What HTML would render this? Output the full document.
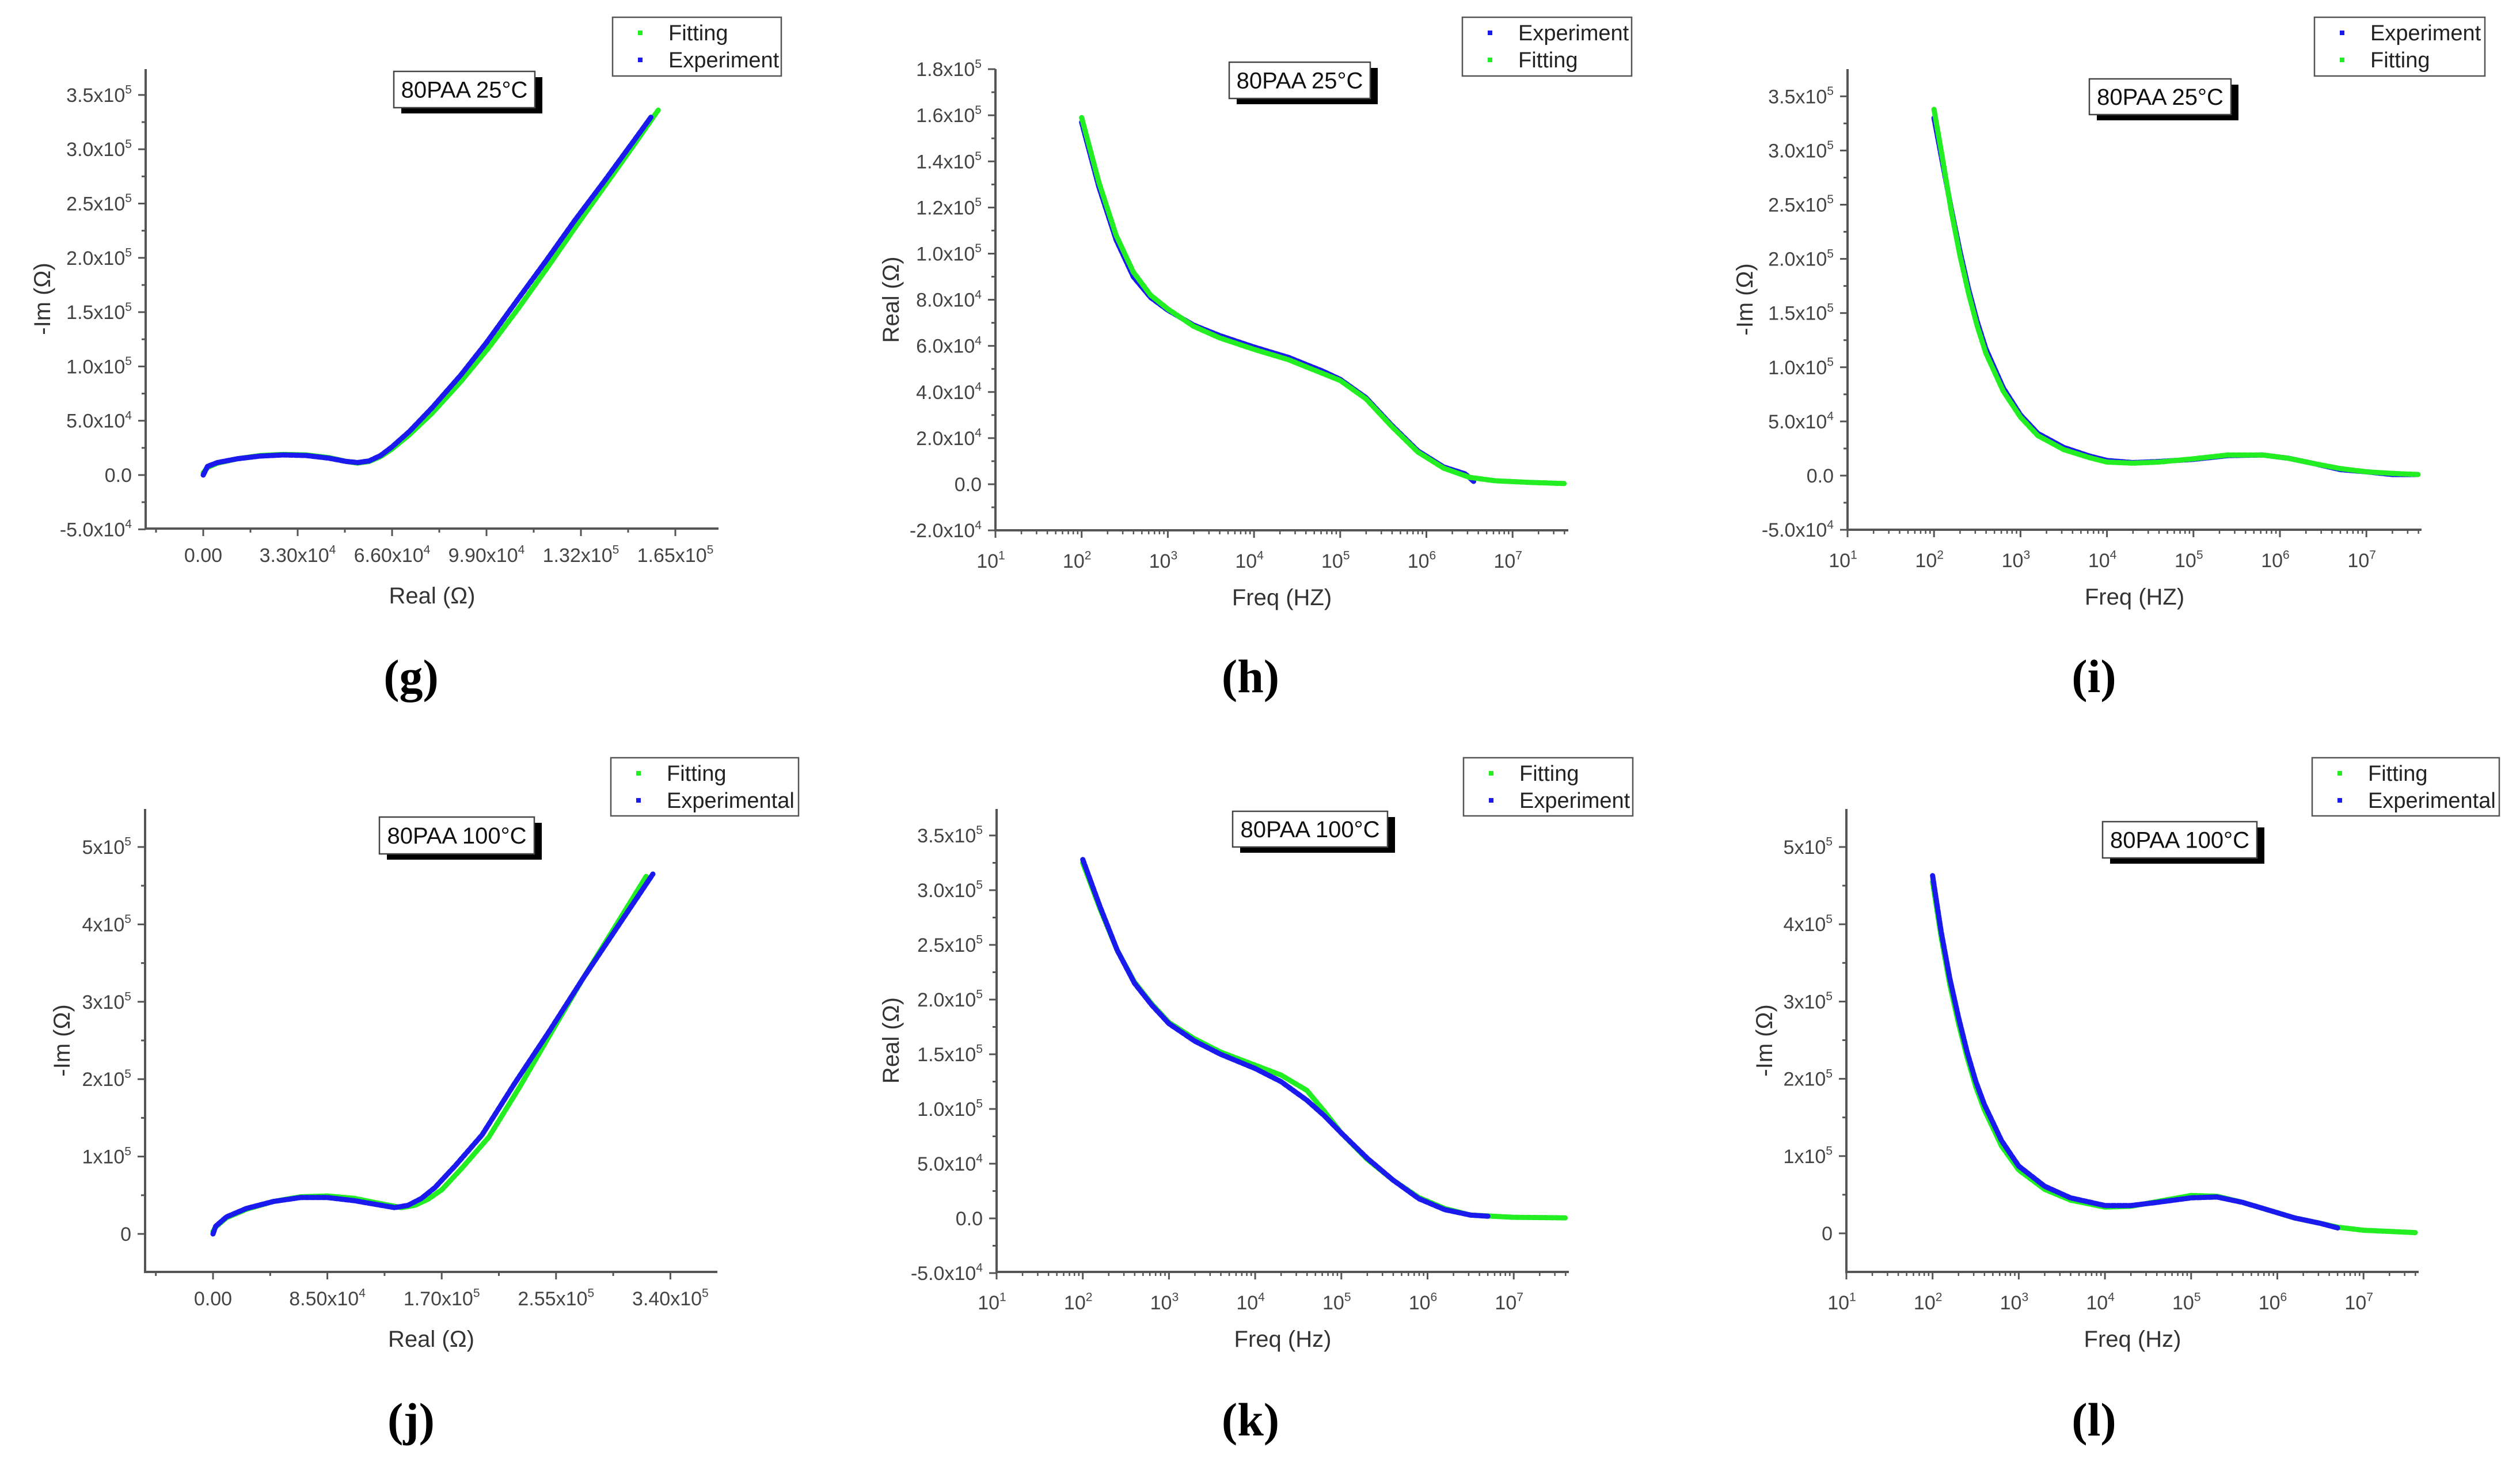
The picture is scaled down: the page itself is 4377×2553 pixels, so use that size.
<!DOCTYPE html>
<html><head><meta charset="utf-8">
<style>
html,body{margin:0;padding:0;background:#fff;}
svg{display:block;font-family:"Liberation Sans",sans-serif;}
</style></head>
<body>
<svg id="fig" width="4377" height="2553" viewBox="0 0 4377 2553" xmlns="http://www.w3.org/2000/svg">
<rect width="4377" height="2553" fill="#fff"/>
</svg>
<script>
// ---------- DATA ----------
// (g) Nyquist 25C
const gFitX=[0,1500,5000,12000,20000,28000,36000,44000,50000,54000,58000,62000,66000,72000,80000,90000,100000,110000,120000,130000,140000,150000,159000];
const gFitY=[2000,7000,11000,15000,18000,19000,18500,16000,12500,11000,12500,17000,24000,37000,57000,86000,118000,153000,190000,228000,265000,302000,336000];
const gExpX=[0,1500,5000,12000,20000,28000,36000,44000,50000,54000,58000,62000,66000,72000,80000,90000,99000,110000,120000,130000,140000,150000,156600];
const gExpY=[0,8000,11500,15000,17500,18500,18000,15500,12500,11500,13000,18000,26000,40000,62000,92000,122000,162000,198000,235000,270000,306000,330000];
const gYTicks=[-50000,0,50000,100000,150000,200000,250000,300000,350000];
const gYLabels=[["-5.0x10","4"],["0.0",""],["5.0x10","4"],["1.0x10","5"],["1.5x10","5"],["2.0x10","5"],["2.5x10","5"],["3.0x10","5"],["3.5x10","5"]];
const gXTicks=[0,33000,66000,99000,132000,165000];
const gXLabels=[["0.00",""],["3.30x10","4"],["6.60x10","4"],["9.90x10","4"],["1.32x10","5"],["1.65x10","5"]];
// (h) Real vs freq 25C (log10 f)
const hLogF=[2.0,2.2,2.4,2.6,2.8,3.0,3.3,3.6,4.0,4.4,4.8,5.0,5.3,5.6,5.9,6.2,6.45,6.55];
const hExp=[157000,129000,106000,90000,81000,75500,69000,64500,59500,55000,49000,45500,37500,25500,14500,7500,4500,1200];
const hFitLogF=[2.0,2.2,2.4,2.6,2.8,3.0,3.3,3.6,4.0,4.4,4.8,5.0,5.3,5.6,5.9,6.2,6.5,6.8,7.2,7.6];
const hFit=[159000,131000,108000,92000,82000,76000,68500,63500,58500,54000,48000,45000,37000,25000,14000,7000,3000,1500,800,300];
const hYTicks=[-20000,0,20000,40000,60000,80000,100000,120000,140000,160000,180000];
const hYLabels=[["-2.0x10","4"],["0.0",""],["2.0x10","4"],["4.0x10","4"],["6.0x10","4"],["8.0x10","4"],["1.0x10","5"],["1.2x10","5"],["1.4x10","5"],["1.6x10","5"],["1.8x10","5"]];
// (i) -Im vs freq 25C
const iLogF=[2.0,2.1,2.2,2.3,2.4,2.5,2.6,2.8,3.0,3.2,3.5,3.8,4.0,4.3,4.6,5.0,5.4,5.8,6.1,6.4,6.7,7.0,7.3,7.6];
const iExp=[330000,288000,246000,207000,172000,142000,117000,81000,56000,39000,26000,18000,14000,12000,13000,15000,18500,19000,16000,11000,5500,3500,1000,1000];
const iFit=[338000,292000,244000,203000,168000,138000,113000,78000,54000,37000,24000,16500,12500,11500,12500,15500,19000,19000,16000,11000,6500,3500,2000,1000];
const iYTicks=[-50000,0,50000,100000,150000,200000,250000,300000,350000];
const iYLabels=gYLabels;
// (j) Nyquist 100C
const jFitX=[0,2000,10000,25000,45000,65000,85000,105000,125000,140000,150000,160000,170000,185000,205000,228000,252000,275000,300000,322000];
const jFitY=[3000,9000,21000,32000,42000,48000,49000,46000,39000,34000,37000,45000,57000,85000,125000,190000,262000,330000,400000,462000];
const jExpX=[0,2000,10000,25000,45000,65000,85000,105000,125000,135000,145000,155000,165000,180000,200000,224000,250000,275000,300000,327000];
const jExpY=[0,10000,22000,33000,42000,47000,47000,43000,37000,34000,37000,46000,60000,88000,128000,194000,262000,330000,395000,465000];
const jYTicks=[0,100000,200000,300000,400000,500000];
const jYLabels=[["0",""],["1x10","5"],["2x10","5"],["3x10","5"],["4x10","5"],["5x10","5"]];
const jXTicks=[0,85000,170000,255000,340000];
const jXLabels=[["0.00",""],["8.50x10","4"],["1.70x10","5"],["2.55x10","5"],["3.40x10","5"]];
// (k) Real vs freq 100C
const kLogF=[2.0,2.2,2.4,2.6,2.8,3.0,3.3,3.6,4.0,4.3,4.6,4.8,5.0,5.3,5.6,5.9,6.2,6.5,6.7];
const kExp=[328000,285000,245000,215000,195000,178000,162000,150000,137000,125000,108000,94000,78000,55000,35000,18000,8000,3000,2000];
const kFitLogF=[2.0,2.2,2.4,2.6,2.8,3.0,3.3,3.6,4.0,4.3,4.6,4.8,5.0,5.3,5.6,5.9,6.2,6.5,7.0,7.6];
const kFit=[325000,283000,245000,216000,196000,179000,164000,152000,140000,131000,117000,98000,78000,54000,35000,19000,9000,3000,1000,500];
const kYTicks=[-50000,0,50000,100000,150000,200000,250000,300000,350000];
const kYLabels=gYLabels;
// (l) -Im vs freq 100C
const lLogF=[2.0,2.1,2.2,2.3,2.4,2.5,2.6,2.8,3.0,3.3,3.6,4.0,4.3,4.6,5.0,5.3,5.6,5.9,6.2,6.5,6.7];
const lExp=[463000,390000,330000,280000,235000,197000,167000,120000,87000,61000,46000,36000,36000,40000,46000,47000,40000,30000,20000,13000,7000];
const lFitLogF=[2.0,2.1,2.2,2.3,2.4,2.5,2.6,2.8,3.0,3.3,3.6,4.0,4.3,4.6,5.0,5.3,5.6,5.9,6.2,6.5,6.7,7.0,7.6];
const lFit=[455000,383000,322000,272000,228000,190000,160000,113000,82000,57000,43000,34000,35000,41000,49000,48000,40000,30000,20000,13000,8000,4000,1000];
const lYTicks=[0,100000,200000,300000,400000,500000];
const lYLabels=jYLabels;
const logTicks=[1,2,3,4,5,6,7];

// ---------- DRAW ----------
const NS="http://www.w3.org/2000/svg";
const svg=document.getElementById('fig');
function mk(tag,attrs,parent){const e=document.createElementNS(NS,tag);for(const k in attrs)e.setAttribute(k,attrs[k]);(parent||svg).appendChild(e);return e;}
function supText(g,x,y,parts,anchor,size){
  const t=mk('text',{x:x,y:y,'text-anchor':anchor,'font-size':size,fill:'#444'},g);
  t.appendChild(document.createTextNode(parts[0]));
  if(parts[1]){const s=mk('tspan',{'font-size':size*0.62,dy:-size*0.42},t);s.textContent=parts[1];}
  return t;
}
function panel(cfg){
  const g=mk('g',{});
  
  
  const sx=cfg.log?(v=>cfg.L+(v-1)*cfg.dec):(v=>cfg.xz+v*cfg.xs);
  const sy=v=>cfg.yz-v*cfg.ys;
  const ax=mk('path',{d:`M${cfg.L} ${cfg.T}V${cfg.B}H${cfg.R}`,stroke:'#555',fill:'none','stroke-width':4},g);
  
  
  cfg.yt.forEach((v,i)=>{
    const y=sy(v);
    mk('line',{x1:cfg.L-13,x2:cfg.L,y1:y,y2:y,stroke:'#555','stroke-width':3},g);
    if(i<cfg.yt.length-1){const ym=sy((v+cfg.yt[i+1])/2);mk('line',{x1:cfg.L-7,x2:cfg.L,y1:ym,y2:ym,stroke:'#555','stroke-width':3},g);}
    const lab=supText(g,cfg.L-24,y+12,cfg.yl[i],'end',34);
    
    
  });
  if(cfg.log){
    logTicks.forEach(d=>{
      const x=sx(d);
      mk('line',{x1:x,x2:x,y1:cfg.B,y2:cfg.B+13,stroke:'#555','stroke-width':3},g);
      for(let m=2;m<=9;m++){const xm=sx(d+Math.log10(m));if(xm<=cfg.R)mk('line',{x1:xm,x2:xm,y1:cfg.B,y2:cfg.B+7,stroke:'#555','stroke-width':2.5},g);}
      const lab=supText(g,x-8,cfg.B+65,["10",String(d)],'middle',34);
      
      
    });
  } else {
    const st=cfg.xt[1]-cfg.xt[0];
    for(let v=cfg.xt[0]-st/2;v<=cfg.xt[cfg.xt.length-1]+st/2+1;v+=st/2){
      const x=sx(v); if(x<cfg.L||x>cfg.R)continue;
      const major=cfg.xt.some(t=>Math.abs(t-v)<1);
      mk('line',{x1:x,x2:x,y1:cfg.B,y2:cfg.B+(major?13:7),stroke:'#555','stroke-width':3},g);
    }
    cfg.xt.forEach((v,i)=>{
      const lab=supText(g,sx(v),cfg.B+58,cfg.xl[i],'middle',34);
      
      
    });
  }
  const xt=mk('text',{x:(cfg.L+cfg.R)/2,y:cfg.B+130,'text-anchor':'middle','font-size':40,fill:'#333'},g);
  xt.textContent=cfg.xtitle;
  
  
  const ymid=(cfg.T+cfg.B)/2;
  const yt=mk('text',{x:0,y:0,'text-anchor':'middle','font-size':40,fill:'#333',transform:`translate(${cfg.ytx},${ymid}) rotate(-90)`},g);
  yt.textContent=cfg.ytitle;
  
  
  cfg.series.forEach(s=>{
    const pts=s.x.map((v,i)=>[sx(v),sy(s.y[i])]);
    const d='M'+pts.map(p=>p[0].toFixed(1)+' '+p[1].toFixed(1)).join('L');
    const p=mk('path',{d:d,fill:'none',stroke:s.color,'stroke-width':9,'stroke-linejoin':'round','stroke-linecap':'round','stroke-dasharray':'7 3'},g);
    
    
  });
  const lg=mk('g',{},g);
  
  
  mk('rect',{x:cfg.leg[0],y:cfg.leg[1],width:cfg.leg[2]-cfg.leg[0],height:cfg.leg[3]-cfg.leg[1],fill:'#fff',stroke:'#555','stroke-width':2.5},lg);
  cfg.legItems.forEach((it,i)=>{
    const cy=cfg.leg[1]+27+i*47;
    mk('rect',{x:cfg.leg[0]+44,y:cy-4,width:8,height:8,fill:it[1]},lg);
    const t=mk('text',{x:cfg.leg[0]+97,y:cy+13,'font-size':38,fill:'#222'},lg);
    t.textContent=it[0];
    
    
  });
  const tb=mk('g',{},g);
  
  
  const [a,b,c,d2]=cfg.tb;
  mk('rect',{x:a+13,y:b+10,width:c-a,height:d2-b,fill:'#000'},tb);
  mk('rect',{x:a,y:b,width:c-a,height:d2-b,fill:'#fff',stroke:'#444','stroke-width':2.5},tb);
  const tt=mk('text',{x:(a+c)/2,y:(b+d2)/2+14,'text-anchor':'middle','font-size':40,fill:'#111'},tb);
  tt.textContent=cfg.title;
  const pl=mk('text',{x:cfg.letter[0],y:cfg.letter[1],'text-anchor':'middle','font-size':82,'font-weight':'bold','font-family':'"Liberation Serif",serif',fill:'#000'},g);
  pl.textContent=cfg.letterText;
  
  
}
const G='#22ee22',B='#1a1aee';
panel({name:'panel-g',L:253,R:1248,T:120,B:918,xz:353,xs:820/165000,yz:825,ys:94.3/50000,
  yt:gYTicks,yl:gYLabels,xt:gXTicks,xl:gXLabels,xtitle:'Real (Ω)',ytitle:'-Im (Ω)',ytx:87,
  series:[{x:gFitX,y:gFitY,color:G,name:'fitting-series'},{x:gExpX,y:gExpY,color:B,name:'experiment-series'}],
  leg:[1064,30,1357,132],legItems:[['Fitting',G],['Experiment',B]],tb:[684,124,929,187],title:'80PAA 25°C',letter:[714,1202],letterText:'(g)'});
panel({name:'panel-h',log:true,L:1729,R:2724,T:120,B:921,dec:149.7,yz:841,ys:80.1/20000,
  yt:hYTicks,yl:hYLabels,xtitle:'Freq (HZ)',ytitle:'Real (Ω)',ytx:1561,
  series:[{x:hLogF,y:hExp,color:B,name:'experiment-series'},{x:hFitLogF,y:hFit,color:G,name:'fitting-series'}],
  leg:[2540,30,2834,132],legItems:[['Experiment',B],['Fitting',G]],tb:[2135,108,2380,171],title:'80PAA 25°C',letter:[2172,1202],letterText:'(h)'});
panel({name:'panel-i',log:true,L:3209,R:4206,T:120,B:920,dec:150.2,yz:826,ys:94.1/50000,
  yt:iYTicks,yl:iYLabels,xtitle:'Freq (HZ)',ytitle:'-Im (Ω)',ytx:3044,
  series:[{x:iLogF,y:iExp,color:B,name:'experiment-series'},{x:iLogF,y:iFit,color:G,name:'fitting-series'}],
  leg:[4020,30,4316,132],legItems:[['Experiment',B],['Fitting',G]],tb:[3629,137,3875,199],title:'80PAA 25°C',letter:[3637,1202],letterText:'(i)'});
panel({name:'panel-j',L:252,R:1246,T:1405,B:2209,xz:370,xs:198.6/85000,yz:2143,ys:134.4/100000,
  yt:jYTicks,yl:jYLabels,xt:jXTicks,xl:jXLabels,xtitle:'Real (Ω)',ytitle:'-Im (Ω)',ytx:121,
  series:[{x:jFitX,y:jFitY,color:G,name:'fitting-series'},{x:jExpX,y:jExpY,color:B,name:'experimental-series'}],
  leg:[1061,1316,1387,1417],legItems:[['Fitting',G],['Experimental',B]],tb:[659,1419,928,1483],title:'80PAA 100°C',letter:[714,2493],letterText:'(j)'});
panel({name:'panel-k',log:true,L:1731,R:2725,T:1405,B:2209,dec:149.7,yz:2116,ys:95/50000,
  yt:kYTicks,yl:kYLabels,xtitle:'Freq (Hz)',ytitle:'Real (Ω)',ytx:1561,
  series:[{x:kFitLogF,y:kFit,color:G,name:'fitting-series'},{x:kLogF,y:kExp,color:B,name:'experiment-series'}],
  leg:[2542,1316,2836,1417],legItems:[['Fitting',G],['Experiment',B]],tb:[2141,1409,2410,1471],title:'80PAA 100°C',letter:[2172,2493],letterText:'(k)'});
panel({name:'panel-l',log:true,L:3207,R:4201,T:1405,B:2209,dec:149.7,yz:2142,ys:134.2/100000,
  yt:lYTicks,yl:lYLabels,xtitle:'Freq (Hz)',ytitle:'-Im (Ω)',ytx:3078,
  series:[{x:lFitLogF,y:lFit,color:G,name:'fitting-series'},{x:lLogF,y:lExp,color:B,name:'experimental-series'}],
  leg:[4016,1316,4341,1417],legItems:[['Fitting',G],['Experimental',B]],tb:[3652,1427,3920,1490],title:'80PAA 100°C',letter:[3637,2493],letterText:'(l)'});
</script>
</body></html>
